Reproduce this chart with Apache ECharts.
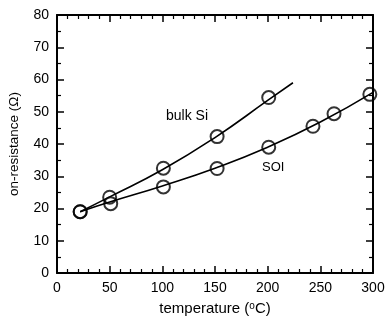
<!DOCTYPE html>
<html>
<head>
<meta charset="utf-8">
<script src="https://cdn.jsdelivr.net/npm/echarts@6/dist/echarts.min.js"></script>
<style>
  html, body { margin: 0; padding: 0; background: #fff; }
  #chart { width: 386px; height: 320px; }
</style>
</head>
<body>
<div id="chart"></div>
<script>
// measured points (temperature °C, on-resistance Ω)
const bulkPoints = [[22, 19], [50, 23.5], [101, 32.5], [152, 42.3], [201, 54.4]];
const soiPoints = [[22, 19], [51, 21.5], [101, 26.7], [152, 32.4], [201, 39], [243, 45.5], [263, 49.4], [297, 55.4]];
// fitted curves
const bulkFit = [[22, 19], [50, 23.6], [100, 32], [150, 42], [200, 53.5], [224, 59]];
const soiFit = [[22, 19], [50, 22], [100, 27], [150, 32.5], [200, 39], [250, 46.8], [300, 56]];

const font = "Liberation Sans";

const chart = echarts.init(document.getElementById("chart"));

const frameAxis = {
  type: "value",
  axisLine: { show: true, onZero: false, lineStyle: { color: "#000", width: 2 } },
  axisTick: { show: true, inside: true, length: 7, lineStyle: { color: "#000", width: 1.5 } },
  minorTick: { show: true, length: 4, lineStyle: { color: "#000", width: 1.2 } },
  splitLine: { show: false },
  minorSplitLine: { show: false },
};

const circleStyle = { color: "rgba(0,0,0,0)", borderColor: "#000", borderWidth: 2 };

chart.setOption({
  animation: false,
  backgroundColor: "#fff",
  grid: { left: 57, right: 13, top: 15, bottom: 47, outerBoundsMode: "none" },
  xAxis: [
    {
      ...frameAxis,
      position: "bottom",
      min: 0, max: 300, interval: 50,
      minorTick: { ...frameAxis.minorTick, splitNumber: 5 },
      axisLabel: { color: "#000", fontFamily: font, fontSize: 14, margin: 8 },
      name: "temperature ({sup|o}C)",
      nameLocation: "middle",
      nameGap: 28,
      nameTextStyle: {
        color: "#000", fontFamily: font, fontSize: 15,
        rich: { sup: { fontSize: 10, verticalAlign: "top", padding: [0, 0, 6, 0], color: "#000", fontFamily: font } },
      },
    },
    {
      ...frameAxis,
      position: "top",
      min: 0, max: 300, interval: 50,
      minorTick: { ...frameAxis.minorTick, splitNumber: 5 },
      axisLabel: { show: false },
    },
  ],
  yAxis: [
    {
      ...frameAxis,
      position: "left",
      min: 0, max: 80, interval: 10,
      minorTick: { ...frameAxis.minorTick, splitNumber: 2 },
      axisLabel: { color: "#000", fontFamily: font, fontSize: 14, margin: 8 },
      name: "on-resistance (Ω)",
      nameLocation: "middle",
      nameGap: 36,
      nameTextStyle: { color: "#000", fontFamily: font, fontSize: 13.5 },
    },
    {
      ...frameAxis,
      position: "right",
      min: 0, max: 80, interval: 10,
      minorTick: { ...frameAxis.minorTick, splitNumber: 2 },
      axisLabel: { show: false },
    },
  ],
  series: [
    {
      name: "bulk Si fit", type: "line", smooth: true, showSymbol: false,
      data: bulkFit, lineStyle: { color: "#000", width: 1.6 },
    },
    {
      name: "SOI fit", type: "line", smooth: true, showSymbol: false,
      data: soiFit, lineStyle: { color: "#000", width: 1.6 },
    },
    {
      name: "bulk Si", type: "scatter", symbol: "circle", symbolSize: 13,
      data: bulkPoints, itemStyle: circleStyle, z: 3,
    },
    {
      name: "SOI", type: "scatter", symbol: "circle", symbolSize: 13,
      data: soiPoints, itemStyle: circleStyle, z: 3,
    },
  ],
  graphic: [
    { type: "text", left: 166, top: 109, style: { text: "bulk Si", fill: "#000", font: "14px " + font } },
    { type: "text", left: 262, top: 161, style: { text: "SOI", fill: "#000", font: "13px " + font } },
  ],
});
</script>
</body>
</html>
